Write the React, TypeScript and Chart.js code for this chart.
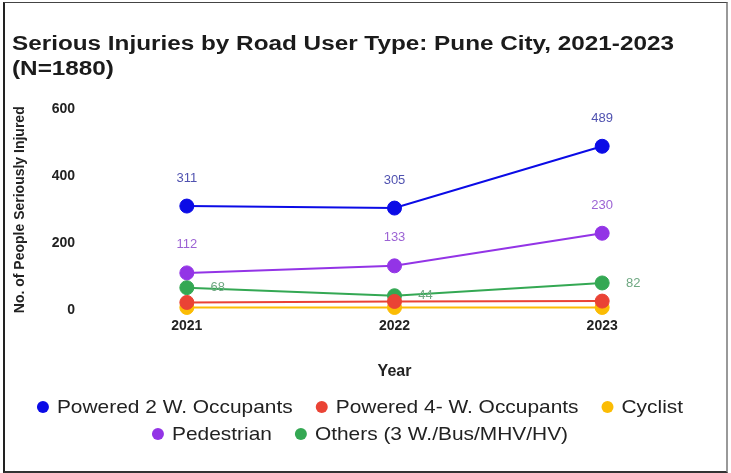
import React, { useEffect, useRef } from 'react';
import { Chart, registerables } from 'chart.js';

Chart.register(...registerables);

// ---- data ----
const years = ['2021', '2022', '2023'];
const powered2W = [311, 305, 489];
const powered4W = [24, 27, 28];
const cyclist = [9, 9, 9];
const pedestrian = [112, 133, 230];
const others = [68, 44, 82];
const yTicks = [0, 200, 400, 600];

const seriesNames = [
  'Powered 2 W. Occupants',
  'Powered 4- W. Occupants',
  'Cyclist',
  'Pedestrian',
  'Others (3 W./Bus/MHV/HV)',
];
const seriesData = [powered2W, powered4W, cyclist, pedestrian, others];
const seriesColors = ['#0b0be6', '#ea4335', '#fbbc04', '#9334e6', '#34a853'];
const labelColors = ['#5052b0', '', '', '#9c63d4', '#6fa882'];
const labelModes = ['above', 'none', 'none', 'above', 'right'];
const legendRows = [
  [0, 1, 2],
  [3, 4],
];

const titleLines = ['Serious Injuries by Road User Type: Pune City, 2021-2023', '(N=1880)'];
const yTitle = 'No. of People Seriously Injured';
const xTitle = 'Year';

const FONT = '"Liberation Sans", Arial, Helvetica, sans-serif';

const titlePlugin = {
  id: 'stretchTitle',
  afterDraw(chart: any) {
    const ctx = chart.ctx as CanvasRenderingContext2D;
    ctx.save();
    ctx.font = `bold 20px ${FONT}`;
    ctx.fillStyle = '#1b1b1b';
    ctx.textBaseline = 'alphabetic';
    ctx.textAlign = 'left';
    const w = ctx.measureText(titleLines[0]).width;
    const sx = 662 / w;
    titleLines.forEach((line, i) => {
      ctx.save();
      ctx.translate(12, 50 + i * 25);
      ctx.scale(sx, 1);
      ctx.fillText(line, 0, 0);
      ctx.restore();
    });
    ctx.restore();
  },
};

const legendPlugin = {
  id: 'wideLegend',
  afterDraw(chart: any) {
    const ctx = chart.ctx as CanvasRenderingContext2D;
    const sx = 1.1;
    const r = 6;
    const gapText = 14;
    const gapItem = 29;
    const centerX = 360;
    const rowY = [407, 434];
    ctx.save();
    ctx.font = `19px ${FONT}`;
    ctx.textBaseline = 'middle';
    ctx.textAlign = 'left';
    legendRows.forEach((row, ri) => {
      const widths = row.map((i) => ctx.measureText(seriesNames[i]).width * sx);
      let total = r;
      widths.forEach((w, k) => {
        total += gapText + w + (k < widths.length - 1 ? gapItem : 0);
      });
      let x = centerX - total / 2 + r;
      const y = rowY[ri];
      row.forEach((i, k) => {
        ctx.fillStyle = seriesColors[i];
        ctx.beginPath();
        ctx.arc(x, y, r, 0, Math.PI * 2);
        ctx.fill();
        ctx.fillStyle = '#222';
        ctx.save();
        ctx.translate(x + gapText, y + 1);
        ctx.scale(sx, 1);
        ctx.fillText(seriesNames[i], 0, 0);
        ctx.restore();
        x += gapText + widths[k] + gapItem;
      });
    });
    ctx.restore();
  },
};

const valueLabelPlugin = {
  id: 'valueLabels',
  afterDatasetsDraw(chart: any) {
    const ctx = chart.ctx as CanvasRenderingContext2D;
    ctx.save();
    ctx.font = `13px ${FONT}`;
    ctx.textBaseline = 'middle';
    ctx.textAlign = 'center';
    chart.data.datasets.forEach((ds: any, di: number) => {
      const mode = labelModes[di];
      if (mode === 'none') return;
      const meta = chart.getDatasetMeta(di);
      ctx.fillStyle = labelColors[di];
      meta.data.forEach((pt: any, i: number) => {
        const v = String(ds.data[i]);
        if (mode === 'above') ctx.fillText(v, pt.x, pt.y - 28);
        else ctx.fillText(v, pt.x + 31, pt.y);
      });
    });
    ctx.restore();
  },
};

export default function App() {
  const ref = useRef<HTMLCanvasElement>(null);

  useEffect(() => {
    document.body.style.margin = '0';
    const canvas = ref.current!;
    const chart = new Chart(canvas, {
      type: 'line',
      data: {
        labels: years,
        datasets: seriesNames.map((name, i) => ({
          label: name,
          data: seriesData[i],
          borderColor: seriesColors[i],
          backgroundColor: seriesColors[i],
          pointBackgroundColor: seriesColors[i],
          pointBorderColor: seriesColors[i],
          pointRadius: 7,
          pointBorderWidth: 1,
          pointStyle: 'circle',
          borderWidth: 2,
          tension: 0,
          clip: false as any,
        })),
      },
      options: {
        responsive: false,
        animation: false,
        devicePixelRatio: 1,
        layout: { padding: { top: 109, left: 10, right: 25, bottom: 83 } },
        scales: {
          x: {
            type: 'category',
            offset: true,
            grid: { display: false, drawTicks: false },
            border: { display: false },
            ticks: { color: '#222', font: { family: FONT, size: 14, weight: 'bold' }, padding: 7 },
            title: {
              display: true,
              text: xTitle,
              color: '#222',
              font: { family: FONT, size: 16, weight: 'bold' },
              padding: { top: 0, bottom: 9 },
            },
            afterFit: (s: any) => {
              s.height = 79.5;
            },
          },
          y: {
            min: 0,
            max: 600,
            grid: { display: false, drawTicks: false },
            border: { display: false },
            afterBuildTicks: (s: any) => {
              s.ticks = yTicks.map((v) => ({ value: v }));
            },
            ticks: { color: '#222', font: { family: FONT, size: 14, weight: 'bold' }, padding: 8 },
            title: {
              display: true,
              text: yTitle,
              color: '#222',
              font: { family: FONT, size: 14, weight: 'bold' },
              padding: { top: 2, bottom: 0 },
            },
            afterFit: (s: any) => {
              s.width = 73;
            },
          },
        },
        plugins: {
          title: { display: false },
          tooltip: { enabled: false },
          legend: { display: false },
        },
      },
      plugins: [titlePlugin, legendPlugin, valueLabelPlugin],
    });
    return () => chart.destroy();
  }, []);

  return (
    <div style={{ position: 'relative', width: 731, height: 473, background: '#fff' }}>
      <canvas ref={ref} width={731} height={473} style={{ display: 'block', width: 731, height: 473 }} />
      <div
        style={{
          position: 'absolute',
          left: 3,
          top: 2,
          width: 725,
          height: 471,
          boxSizing: 'border-box',
          borderLeft: '2px solid #222',
          borderTop: '1px solid #444',
          borderRight: '2px solid #999',
          borderBottom: '2px solid #333',
          pointerEvents: 'none',
        }}
      />
    </div>
  );
}
